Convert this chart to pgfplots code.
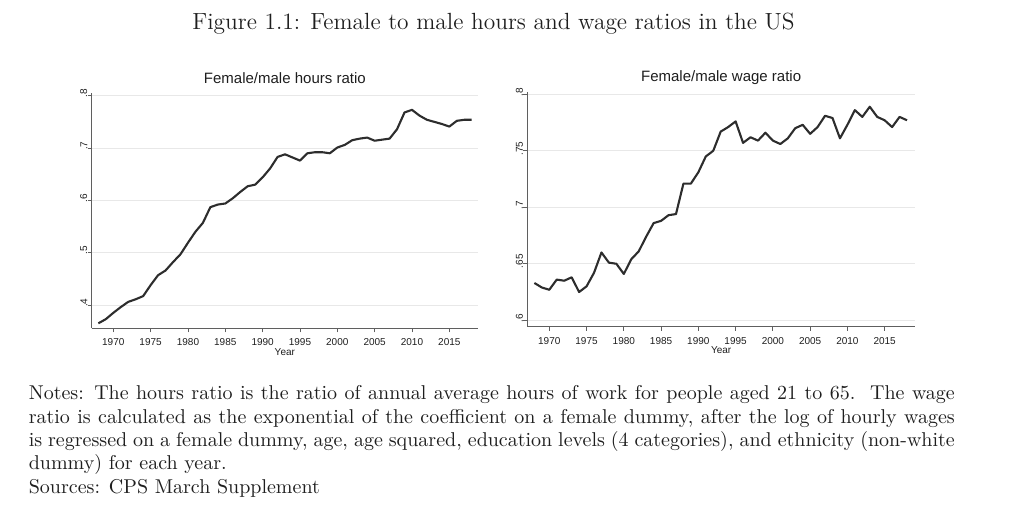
\documentclass[border=0pt]{standalone}
\usepackage{pgfplots}
\pgfplotsset{compat=1.18}
\usepackage{fontspec}
\newfontfamily\arial{Liberation Sans}

\definecolor{ink}{RGB}{30,30,30}
\definecolor{lineink}{RGB}{45,45,45}
\definecolor{axisgray}{RGB}{95,95,95}
\definecolor{gridgray}{RGB}{232,232,232}

% Stata-like look: left/bottom axes, faint horizontal grid, vertical y labels
\pgfplotsset{
  stata/.style={
    scale only axis,
    axis lines=left,
    axis line style={axisgray, line width=0.5pt, -},
    every tick/.style={axisgray, line width=0.4pt},
    major tick length=2pt,
    tick align=outside,
    xtick={1970,1975,...,2015},
    ymajorgrids,
    grid style={gridgray, line width=0.5pt},
    tick label style={font=\arial\fontsize{5}{6}\selectfont, text=ink},
    /pgf/number format/assume math mode=true,
    /pgf/number format/1000 sep={},
    yticklabel style={rotate=90, anchor=south, inner sep=0pt, xshift=1.2pt},
    xticklabel style={inner sep=1pt, yshift=-2pt},
    xlabel={Year},
    xlabel style={font=\arial\fontsize{5}{6}\selectfont, text=ink, inner sep=0pt, yshift=0pt},
    every axis title shift=0pt,
    title style={font=\arial\fontsize{7.5}{8}\selectfont, text=ink, at={(0.5,1)}, anchor=base, yshift=5pt},
    clip=false,
  },
  ratio/.style={lineink, line width=1.05pt, line join=round, no marks},
}

\begin{document}
\begin{tikzpicture}
\useasboundingbox (0,0) rectangle (512pt,-265pt);

\node[anchor=base, font=\fontsize{11.7}{14}\selectfont, text=ink, inner sep=0pt] at (246.75pt,-15pt)
  {Figure 1.1: Female to male hours and wage ratios in the US};

\begin{axis}[stata,
  at={(45.85pt,-164.15pt)}, anchor=south west,
  width=193.15pt, height=117.6pt,
  xmin=1967.11, xmax=2018.84,
  ymin=0.3555, ymax=0.805,
  ytick={0.4,0.5,0.6,0.7,0.8},
  yticklabels={.4,.5,.6,.7,.8},
  title={Female/male hours ratio},
]
\addplot[ratio] coordinates {
(1968,0.365)(1969,0.373)(1970,0.385)(1971,0.396)(1972,0.406)(1973,0.411)
(1974,0.417)(1975,0.438)(1976,0.457)(1977,0.466)(1978,0.482)(1979,0.497)
(1980,0.519)(1981,0.540)(1982,0.557)(1983,0.587)(1984,0.592)(1985,0.594)
(1986,0.604)(1987,0.616)(1988,0.627)(1989,0.630)(1990,0.644)(1991,0.661)
(1992,0.683)(1993,0.688)(1994,0.682)(1995,0.676)(1996,0.690)(1997,0.692)
(1998,0.692)(1999,0.690)(2000,0.701)(2001,0.706)(2002,0.715)(2003,0.718)
(2004,0.720)(2005,0.714)(2006,0.716)(2007,0.718)(2008,0.736)(2009,0.768)
(2010,0.773)(2011,0.762)(2012,0.754)(2013,0.750)(2014,0.746)(2015,0.741)
(2016,0.752)(2017,0.754)(2018,0.754)
};
\end{axis}

\begin{axis}[stata,
  at={(263.65pt,-163.35pt)}, anchor=south west,
  width=193.85pt, height=117.5pt,
  xmin=1967.05, xmax=2019.07,
  ymin=0.5943, ymax=0.8023,
  ytick={0.6,0.65,0.7,0.75,0.8},
  yticklabels={.6,.65,.7,.75,.8},
  title={Female/male wage ratio},
]
\addplot[ratio] coordinates {
(1968,0.633)(1969,0.629)(1970,0.627)(1971,0.636)(1972,0.635)(1973,0.638)
(1974,0.625)(1975,0.630)(1976,0.642)(1977,0.660)(1978,0.651)(1979,0.650)
(1980,0.641)(1981,0.654)(1982,0.661)(1983,0.674)(1984,0.686)(1985,0.688)
(1986,0.693)(1987,0.694)(1988,0.721)(1989,0.721)(1990,0.731)(1991,0.745)
(1992,0.750)(1993,0.767)(1994,0.771)(1995,0.776)(1996,0.757)(1997,0.762)
(1998,0.759)(1999,0.766)(2000,0.759)(2001,0.756)(2002,0.761)(2003,0.770)
(2004,0.773)(2005,0.765)(2006,0.771)(2007,0.781)(2008,0.779)(2009,0.761)
(2010,0.773)(2011,0.786)(2012,0.780)(2013,0.789)(2014,0.780)(2015,0.777)
(2016,0.771)(2017,0.780)(2018,0.777)
};
\end{axis}

\node[anchor=base west, inner sep=0pt, text=ink, font=\fontsize{10}{11.67}\selectfont,
      align=left] at (14.2pt,-246.65pt) {%
\makebox[463pt][s]{Notes: The hours ratio is the ratio of annual average hours of work for people aged 21 to 65.\ \ The wage}\\
\makebox[463pt][s]{ratio is calculated as the exponential of the coefficient on a female dummy, after the log of hourly wages}\\
\makebox[463pt][s]{is regressed on a female dummy, age, age squared, education levels (4 categories), and ethnicity (non-white}\\
dummy) for each year.\\
Sources: CPS March Supplement};
\end{tikzpicture}
\end{document}
